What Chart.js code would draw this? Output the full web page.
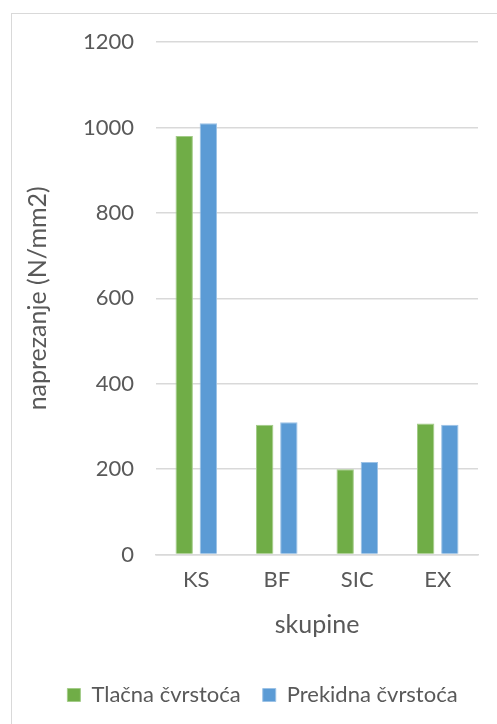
<!DOCTYPE html>
<html>
<head>
<meta charset="utf-8">
<script src="https://cdn.jsdelivr.net/npm/chart.js@4"></script>
<style>
  html, body { margin: 0; padding: 0; background: #fff; }
  #wrap { position: relative; width: 497px; height: 724px; overflow: hidden; }
  #frame { position: absolute; left: 11px; top: 13px; width: 520px; height: 740px; border: 1.5px solid #d9d9d9; box-sizing: border-box; }
  canvas { position: absolute; left: 0; top: 0; }
</style>
</head>
<body>
<div id="wrap">
  <div id="frame"></div>
  <canvas id="chart" width="497" height="724"></canvas>
</div>
<script>
var groups = ['KS', 'BF', 'SIC', 'EX']
var tlacna = [980, 304, 200, 307]
var prekidna = [1010, 310, 217, 304]
var seriesNames = ['Tlačna čvrstoća', 'Prekidna čvrstoća']

var textColor = '#595959'
var font = 'Lato, "Open Sans", sans-serif'

// legend sits a bit right of the canvas centre
var legendShift = {
    id: 'legendShift',
    afterLayout: function (chart) {
        chart.legend.left += 12
        chart.legend.right += 12
    }
}

var ctx = document.getElementById('chart').getContext('2d')
window.chart = new Chart(ctx, {
    type: 'bar',
    data: {
        labels: groups,
        datasets: [{
            label: seriesNames[0],
            data: tlacna,
            backgroundColor: '#70ad47',
            borderColor: '#a3cc88',
            borderWidth: 1
        }, {
            label: seriesNames[1],
            data: prekidna,
            backgroundColor: '#5b9bd5',
            borderColor: '#9cc2e6',
            borderWidth: 1
        }]
    },
    options: {
        responsive: false,
        animation: false,
        categoryPercentage: 0.6,
        barPercentage: 0.72,
        layout: { padding: { left: 23, right: 19, top: 42, bottom: 8 } },
        plugins: {
            tooltip: { enabled: false },
            legend: {
                position: 'bottom',
                labels: {
                    color: textColor,
                    font: { family: font, size: 22 },
                    boxWidth: 13,
                    boxHeight: 13,
                    padding: 22
                }
            }
        },
        scales: {
            x: {
                grid: { display: false },
                border: { color: '#d9d9d9', width: 1.5 },
                ticks: { color: textColor, font: { family: font, size: 22 }, padding: 4 },
                title: {
                    display: true,
                    text: 'skupine',
                    color: textColor,
                    font: { family: font, size: 25 },
                    padding: { top: 13, bottom: 22 }
                }
            },
            y: {
                min: 0,
                max: 1200,
                ticks: {
                    stepSize: 200,
                    color: textColor,
                    font: { family: font, size: 22 },
                    padding: 22,
                    callback: function (v) { return v }
                },
                grid: { color: '#d9d9d9', lineWidth: 1.5, drawTicks: false },
                border: { display: false },
                title: {
                    display: true,
                    text: 'naprezanje (N/mm2)',
                    color: textColor,
                    font: { family: font, size: 25 },
                    padding: { top: 0, bottom: 8 }
                }
            }
        }
    },
    plugins: [legendShift]
})
</script>
</body>
</html>
